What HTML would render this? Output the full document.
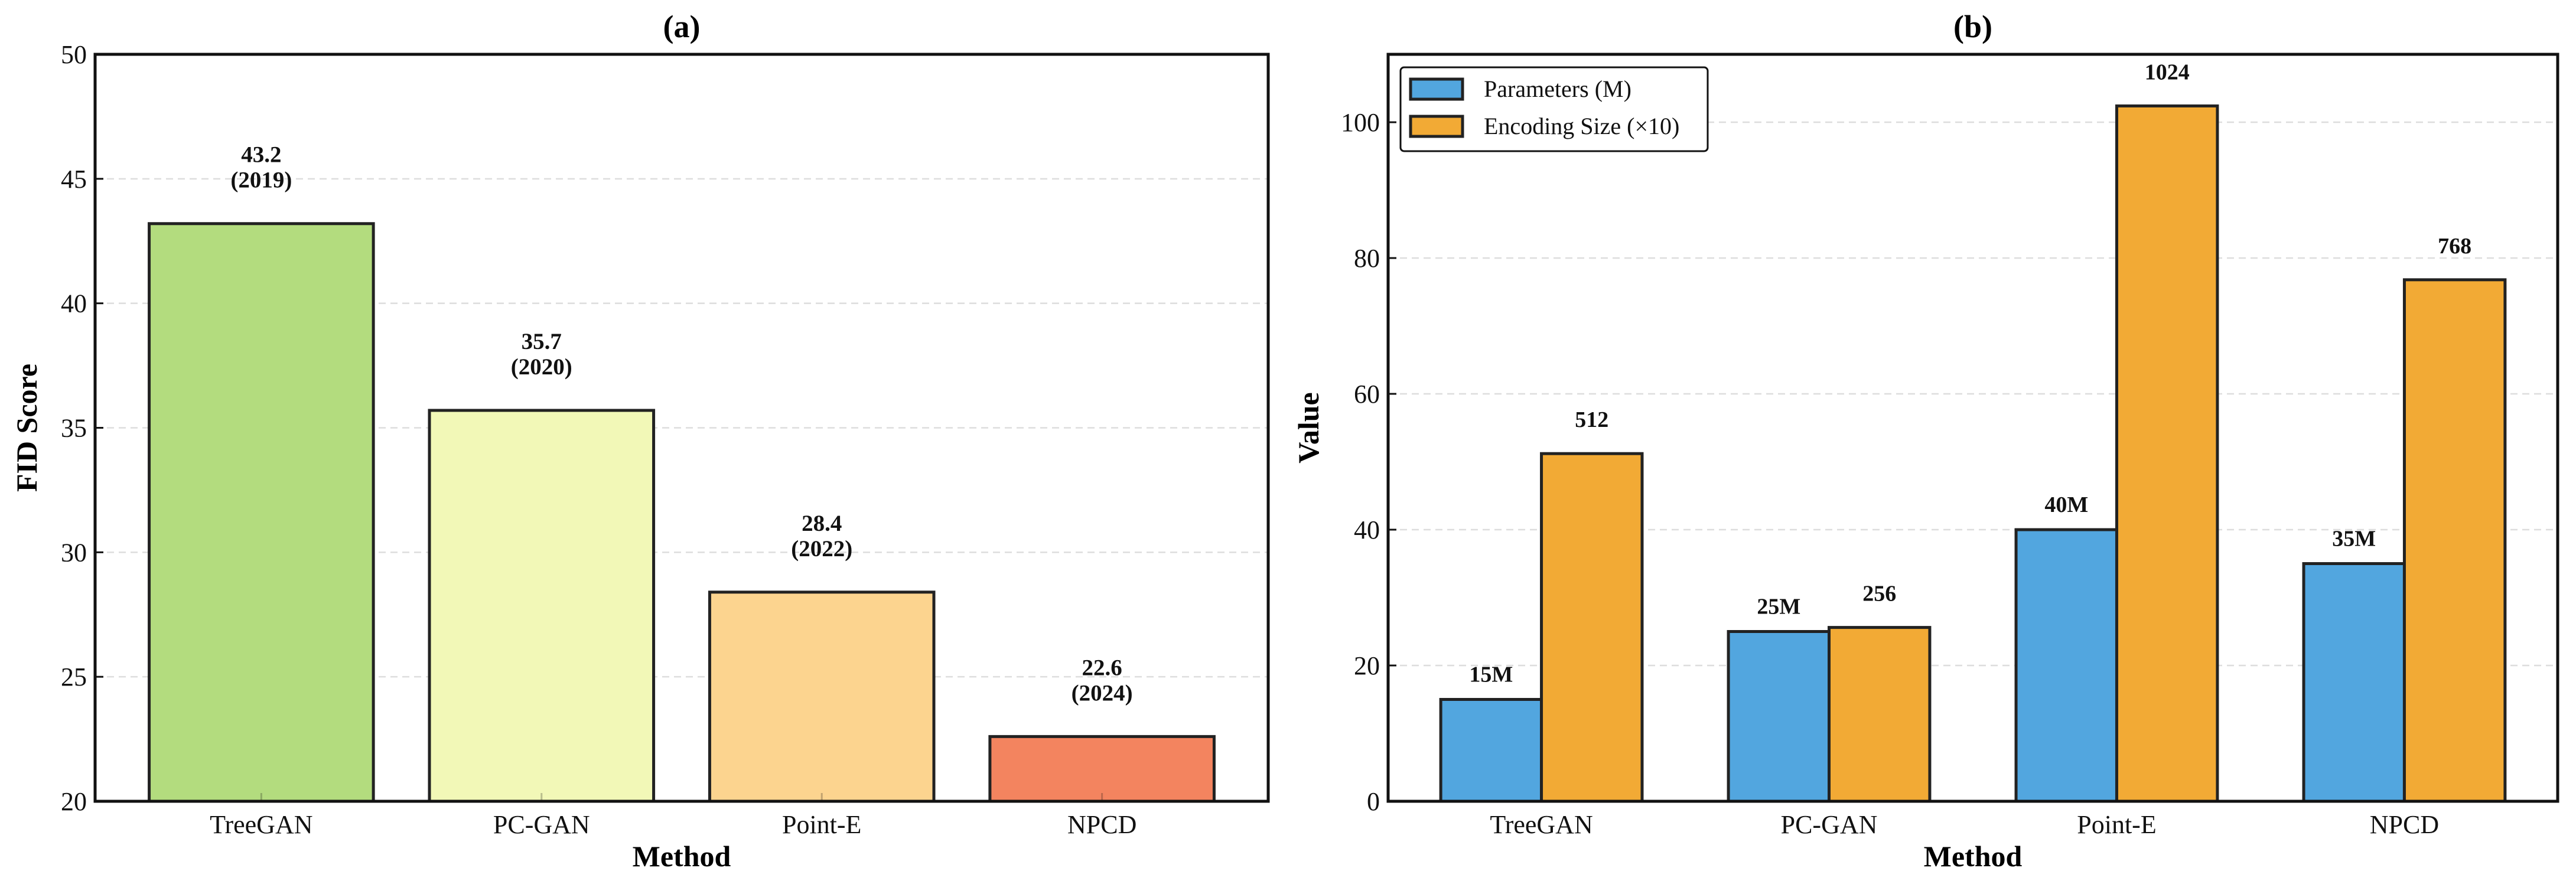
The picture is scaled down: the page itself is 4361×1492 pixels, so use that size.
<!DOCTYPE html>
<html><head><meta charset="utf-8"><style>
html,body{margin:0;padding:0;background:#fff;}
svg{display:block;font-family:"Liberation Serif",serif;}
</style></head><body>
<svg id="chart" width="4361" height="1492" viewBox="0 0 4361 1492" xmlns="http://www.w3.org/2000/svg">
<g id="pa"></g>
<g id="pb"></g>
</svg>
<script>
const categories = ["TreeGAN","PC-GAN","Point-E","NPCD"];
const fidValues = [43.2,35.7,28.4,22.6];
const years = ["2019","2020","2022","2024"];
const fidTicks = [20,25,30,35,40,45,50];
const paramValues = [15,25,40,35];
const encodingSizes = [512,256,1024,768];
const valueTicks = [0,20,40,60,80,100];

const NS="http://www.w3.org/2000/svg";
function mk(parent,tag,attrs,text){const e=document.createElementNS(NS,tag);for(const k in attrs)e.setAttribute(k,attrs[k]);if(text!==undefined)e.textContent=text;parent.appendChild(e);return e;}

// Panel A
(function(){
  const g=document.getElementById('pa');
  const L=161,R=2147,T=92,B=1357,x0=-0.593,x1=3.593,y0=20,y1=50;
  const sx=v=>L+(v-x0)/(x1-x0)*(R-L), sy=v=>B-(v-y0)/(y1-y0)*(B-T);
  const colors=["#b3dc7e","#f2f8b7","#fcd48f","#f3845f"];
  fidTicks.forEach(t=>{
    if(t>y0&&t<y1){const l=mk(g,'line',{x1:L,x2:R,y1:sy(t),y2:sy(t),stroke:'#ddd','stroke-width':2.5,'stroke-dasharray':'12,8'});
    }
    const tk=mk(g,'line',{x1:L,x2:L+14,y1:sy(t),y2:sy(t),stroke:'#111','stroke-width':3});
    
    const tl=mk(g,'text',{x:L-14,y:sy(t)+15,'text-anchor':'end','font-size':44,fill:'#111'},String(t));
    
  });
  categories.forEach((c,i)=>{
    const cx=sx(i),w=(sx(0.4)-sx(-0.4)),top=sy(fidValues[i]);
    const r=mk(g,'rect',{x:cx-w/2,y:top,width:w,height:B-top,fill:colors[i],stroke:'#222','stroke-width':5});
    
    const tk=mk(g,'line',{x1:cx,x2:cx,y1:B,y2:B-14,stroke:'#111','stroke-opacity':0.25,'stroke-width':3});
    
    const a1=mk(g,'text',{x:cx,y:top-104,'text-anchor':'middle','font-size':39,'font-weight':'bold',fill:'#111'},fidValues[i].toFixed(1));
    
    const a2=mk(g,'text',{x:cx,y:top-61,'text-anchor':'middle','font-size':39,'font-weight':'bold',fill:'#111'},'('+years[i]+')');
    
    const xl=mk(g,'text',{x:cx,y:B+54,'text-anchor':'middle','font-size':44,fill:'#111'},c);
    
  });
  const f=mk(g,'rect',{x:L,y:T,width:R-L,height:B-T,fill:'none',stroke:'#111','stroke-width':5});
  
  const t=mk(g,'text',{x:(L+R)/2,y:63,'text-anchor':'middle','font-size':54,'font-weight':'bold'},'(a)');
  
  const xt=mk(g,'text',{x:(L+R)/2,y:1467,'text-anchor':'middle','font-size':50,'font-weight':'bold'},'Method');
  
  const yt=mk(g,'text',{x:0,y:0,transform:'translate(62,'+((T+B)/2)+') rotate(-90)','text-anchor':'middle','font-size':50,'font-weight':'bold'},'FID Score');
  
})();

// Panel B
(function(){
  const g=document.getElementById('pb');
  const L=2350,R=4330,T=92,B=1357,x0=-0.533,x1=3.533,y0=0,y1=110;
  const sx=v=>L+(v-x0)/(x1-x0)*(R-L), sy=v=>B-(v-y0)/(y1-y0)*(B-T);
  valueTicks.forEach(t=>{
    if(t>y0){const l=mk(g,'line',{x1:L,x2:R,y1:sy(t),y2:sy(t),stroke:'#ddd','stroke-width':2.5,'stroke-dasharray':'12,8'});
    }
    const tk=mk(g,'line',{x1:L,x2:L+14,y1:sy(t),y2:sy(t),stroke:'#111','stroke-width':3});
    
    const tl=mk(g,'text',{x:L-14,y:sy(t)+15,'text-anchor':'end','font-size':44,fill:'#111'},String(t));
    
  });
  const w=sx(0.35)-sx(0);
  categories.forEach((c,i)=>{
    const cx=sx(i);
    const pt=sy(paramValues[i]);
    const r1=mk(g,'rect',{x:cx-w,y:pt,width:w,height:B-pt,fill:'#52a6df',stroke:'#222','stroke-width':5});
    
    const et=sy(encodingSizes[i]/10);
    const r2=mk(g,'rect',{x:cx,y:et,width:w,height:B-et,fill:'#f2aa35',stroke:'#222','stroke-width':5});
    
    const l1=mk(g,'text',{x:cx-w/2,y:pt-30,'text-anchor':'middle','font-size':38,'font-weight':'bold',fill:'#111'},paramValues[i]+'M');
    
    const l2=mk(g,'text',{x:cx+w/2,y:et-45,'text-anchor':'middle','font-size':38,'font-weight':'bold',fill:'#111'},String(encodingSizes[i]));
    
    const xl=mk(g,'text',{x:cx,y:B+54,'text-anchor':'middle','font-size':44,fill:'#111'},c);
    
  });
  const f=mk(g,'rect',{x:L,y:T,width:R-L,height:B-T,fill:'none',stroke:'#111','stroke-width':5});
  
  const t=mk(g,'text',{x:(L+R)/2,y:63,'text-anchor':'middle','font-size':54,'font-weight':'bold'},'(b)');
  
  const xt=mk(g,'text',{x:(L+R)/2,y:1467,'text-anchor':'middle','font-size':50,'font-weight':'bold'},'Method');
  
  const yt=mk(g,'text',{x:0,y:0,transform:'translate(2232,'+((T+B)/2)+') rotate(-90)','text-anchor':'middle','font-size':50,'font-weight':'bold'},'Value');
  
  const lg=mk(g,'g',{});
  
  mk(lg,'rect',{x:2371,y:114,width:520,height:142,rx:6,fill:'#fff',stroke:'#111','stroke-width':3});
  const p1=mk(lg,'rect',{x:2388,y:134,width:88,height:34,fill:'#52a6df',stroke:'#222','stroke-width':5});
  
  const t1=mk(lg,'text',{x:2512,y:164,'font-size':40,fill:'#111'},'Parameters (M)');
  
  const p2=mk(lg,'rect',{x:2388,y:197,width:88,height:34,fill:'#f2aa35',stroke:'#222','stroke-width':5});
  
  const t2=mk(lg,'text',{x:2512,y:227,'font-size':40,fill:'#111'},'Encoding Size (×10)');
  
})();
</script>
</body></html>
